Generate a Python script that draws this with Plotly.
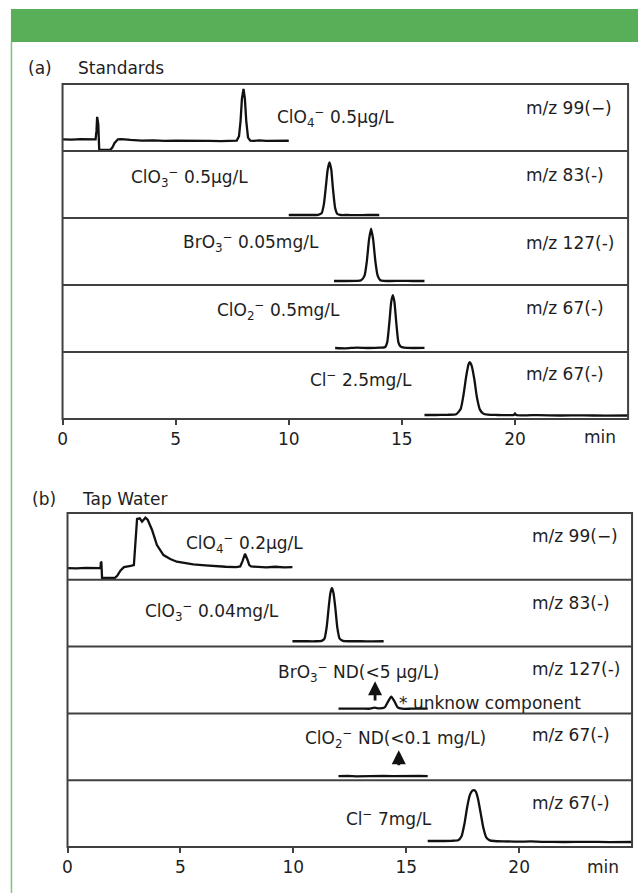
import plotly.graph_objects as go

# ---------------- data ----------------
# retention time axis (min)
time_ticks = [0, 5, 10, 15, 20]
time_range = [0, 25]

# (a) Standards - each trace: retention time (min) / relative response (0-100 of its lane)
std_clo4_t = [0.0, 0.4, 0.8, 1.2, 1.46, 1.5, 1.53, 1.58, 1.62, 1.7, 2.1, 2.2, 2.3, 2.45, 2.6, 3.0,
              3.5, 4.0, 4.5, 5.0, 5.5, 6.0, 6.5, 7.0, 7.5, 7.7, 7.8, 7.87, 7.93, 8.0, 8.06, 8.12,
              8.2, 8.3, 8.45, 8.7, 9.0, 9.5, 10.0]
std_clo4_i = [17.5, 17.0, 17.8, 17.5, 17.5, 30, 51, 40, 3, 1.5, 1.5, 5, 12, 17.5, 17.8, 16.5,
              15.5, 16.0, 15.0, 15.5, 15.0, 14.5, 15.0, 14.8, 15.0, 15.5, 22, 45, 78, 92.5, 78, 45,
              20, 15.5, 15.0, 15.8, 15.0, 15.5, 15.3]

std_clo3_t = [10.0, 10.5, 11.0, 11.3, 11.45, 11.55, 11.65, 11.72, 11.8, 11.88, 11.95, 12.05,
              12.15, 12.3, 12.6, 13.0, 13.5, 14.0]
std_clo3_i = [4.5, 4.5, 4.5, 4.8, 7, 20, 50, 72, 83, 72, 45, 15, 6, 4.5, 4.5, 4.2, 4.5, 4.5]

std_bro3_t = [12.0, 12.5, 13.0, 13.2, 13.35, 13.45, 13.55, 13.64, 13.73, 13.83, 13.93, 14.05,
              14.2, 14.5, 15.0, 15.5, 16.0]
std_bro3_i = [6, 6, 6.2, 7, 14, 35, 68, 84, 68, 35, 14, 7, 6, 6, 6.2, 6, 6]

std_clo2_t = [12.05, 12.5, 13.0, 13.5, 14.0, 14.25, 14.35, 14.45, 14.53, 14.6, 14.67, 14.75,
              14.85, 14.95, 15.1, 15.5, 16.0]
std_clo2_i = [6, 5.5, 6.5, 6, 6.5, 7, 14, 45, 75, 85, 75, 45, 14, 8, 6.5, 6, 6.2]

std_cl_t = [16.0, 16.5, 17.0, 17.4, 17.6, 17.72, 17.85, 17.95, 18.0, 18.08, 18.2, 18.32, 18.45,
            18.6, 18.8, 19.2, 19.7, 19.95, 20.0, 20.05, 20.5, 21.0, 22.0, 23.0, 24.0, 25.0]
std_cl_i = [6, 6, 6.3, 7, 15, 35, 65, 82, 85, 80, 60, 32, 14, 8, 6.5, 6, 5.8, 6, 8.5, 6, 5.5,
            5.8, 5.2, 5.5, 5.0, 5.2]

# (b) Tap water
tap_clo4_t = [0.0, 0.4, 0.8, 1.2, 1.46, 1.48, 1.5, 1.53, 1.6, 2.1, 2.2, 2.35, 2.5, 2.65, 2.8,
              2.94, 3.0, 3.08, 3.2, 3.3, 3.45, 3.55, 3.74, 3.96, 4.25, 4.55, 4.84, 5.2, 5.57, 6.1,
              6.6, 7.0, 7.47, 7.65, 7.75, 7.86, 7.97, 8.05, 8.13, 8.4, 8.8, 9.2, 9.6, 9.96]
tap_clo4_i = [17.5, 17.0, 18.0, 17.5, 17.5, 27, 26, 3, 3, 3, 6, 14, 19, 20.5, 21, 22, 60, 91,
              92, 87, 93, 90, 75, 52, 37, 31, 27, 25, 23, 21.5, 20, 19.5, 19, 20, 28, 39, 30, 22,
              20, 19.5, 18.5, 19.5, 18.5, 19]

tap_clo3_t = [9.96, 10.5, 11.0, 11.25, 11.38, 11.48, 11.57, 11.64, 11.71, 11.78, 11.86, 11.95,
              12.05, 12.2, 12.5, 13.0, 13.5, 14.0]
tap_clo3_i = [8, 8, 8, 8.5, 12, 30, 60, 80, 88, 80, 58, 28, 12, 8.5, 8, 8, 7.8, 8]

tap_bro3_t = [12.0, 12.5, 13.0, 13.4, 13.6, 13.8, 14.05, 14.2, 14.34, 14.48, 14.62, 14.8, 15.2,
              15.6, 15.95]
tap_bro3_i = [7, 7, 7.2, 7, 8.5, 7.5, 9, 18, 25, 18, 9, 7, 7, 7.2, 7]

tap_clo2_t = [12.0, 12.4, 12.8, 13.2, 13.6, 14.0, 14.4, 14.8, 15.2, 15.6, 15.95]
tap_clo2_i = [6, 6.5, 5.8, 6.3, 6, 6.5, 6, 6.4, 5.9, 6.3, 6]

tap_cl_t = [15.95, 16.5, 17.0, 17.3, 17.45, 17.58, 17.7, 17.82, 17.92, 18.0, 18.08, 18.18, 18.3,
            18.42, 18.55, 18.7, 18.9, 19.3, 20.0, 20.5, 21.0, 22.0, 23.0, 24.0, 25.0]
tap_cl_i = [9, 9, 9.3, 10, 16, 35, 60, 78, 84, 85, 83, 72, 50, 28, 14, 10, 9, 8.5, 8, 8.3, 7.8,
            7.5, 7.8, 7.3, 7.5]

# analyte labels and monitored ions, lane by lane
std_labels = ["ClO<sub>4</sub><sup>−</sup> 0.5µg/L", "ClO<sub>3</sub><sup>−</sup> 0.5µg/L",
              "BrO<sub>3</sub><sup>−</sup> 0.05mg/L", "ClO<sub>2</sub><sup>−</sup> 0.5mg/L",
              "Cl<sup>−</sup> 2.5mg/L"]
tap_labels = ["ClO<sub>4</sub><sup>−</sup> 0.2µg/L", "ClO<sub>3</sub><sup>−</sup> 0.04mg/L",
              "BrO<sub>3</sub><sup>−</sup> ND(<5 µg/L)", "ClO<sub>2</sub><sup>−</sup> ND(<0.1 mg/L)",
              "Cl<sup>−</sup> 7mg/L"]
std_ions = ["m/z 99(−)", "m/z 83(-)", "m/z 127(-)", "m/z 67(-)", "m/z 67(-)"]
tap_ions = ["m/z 99(−)", "m/z 83(-)", "m/z 127(-)", "m/z 67(-)", "m/z 67(-)"]

# retention times of the not-detected analytes (arrows)
nd_bro3_time = 13.62
nd_clo2_time = 14.67

# ---------------- layout helpers ----------------
W, H = 638, 893
FONT = "DejaVu Sans"
INK = "#1e1e1e"
FRAME = "#404040"


def fx(px):
    return px / W


def fy(py):
    return 1 - py / H


panels = [
    dict(xaxis="x", left=58, right=628, top=84, bottom=419, lanes_first=1,
         traces=[(std_clo4_t, std_clo4_i), (std_clo3_t, std_clo3_i), (std_bro3_t, std_bro3_i),
                 (std_clo2_t, std_clo2_i), (std_cl_t, std_cl_i)],
         shapes=["linear", "spline", "spline", "spline", "spline"],
         labels=std_labels, ions=std_ions,
         label_x=[272, 125, 177, 212, 305], label_dy=[0.50, 0.40, 0.37, 0.38, 0.40],
         ion_x=523, ion_dy=[0.36, 0.36, 0.38, 0.34, 0.33],
         tag="(a)", tag_x=21, title="Standards", title_x=72, title_y=68, min_x=600, tick_y=437),
    dict(xaxis="x2", left=63, right=632, top=513, bottom=847, lanes_first=6,
         traces=[(tap_clo4_t, tap_clo4_i), (tap_clo3_t, tap_clo3_i), (tap_bro3_t, tap_bro3_i),
                 (tap_clo2_t, tap_clo2_i), (tap_cl_t, tap_cl_i)],
         shapes=["linear", "spline", "spline", "linear", "spline"],
         labels=tap_labels, ions=tap_ions,
         label_x=[180, 139, 273, 300, 342], label_dy=[0.45, 0.48, 0.39, 0.37, 0.56],
         ion_x=529, ion_dy=[0.34, 0.35, 0.33, 0.33, 0.34],
         tag="(b)", tag_x=25, title="Tap Water", title_x=76, title_y=499, min_x=603, tick_y=867),
]

fig = go.Figure()
layout = dict(width=W, height=H, margin=dict(l=0, r=0, t=0, b=0),
              paper_bgcolor="white", plot_bgcolor="rgba(0,0,0,0)", showlegend=False)
shapes = []
annotations = []

# green banner and side rule
shapes.append(dict(type="rect", xref="paper", yref="paper", x0=fx(6), x1=1.0, y0=fy(42), y1=fy(9),
                   fillcolor="#59ae58", line=dict(width=0), layer="below"))
shapes.append(dict(type="line", xref="paper", yref="paper", x0=fx(6.5), x1=fx(6.5), y0=fy(42), y1=0,
                   line=dict(color="#7cc47b", width=1.5), layer="below"))

for p in panels:
    lane_h = (p["bottom"] - p["top"]) / 5
    xname = p["xaxis"]
    xkey = "xaxis" if xname == "x" else "xaxis" + xname[1:]
    bottom_lane = p["lanes_first"] + 4
    layout[xkey] = dict(domain=[fx(p["left"]), fx(p["right"])], range=time_range,
                        anchor="y" if bottom_lane == 1 else "y%d" % bottom_lane,
                        tickvals=time_ticks, ticks="outside", ticklen=5, tickwidth=1.5,
                        tickcolor=FRAME, showline=False, showgrid=False, zeroline=False,
                        tickfont=dict(family=FONT, size=17, color=INK), fixedrange=True)
    for k in range(5):
        n = p["lanes_first"] + k
        ykey = "yaxis" if n == 1 else "yaxis%d" % n
        yname = "y" if n == 1 else "y%d" % n
        top = p["top"] + k * lane_h
        bot = top + lane_h
        layout[ykey] = dict(domain=[fy(bot), fy(top)], range=[0, 100], visible=False,
                            anchor=xname, fixedrange=True)
        t, i = p["traces"][k]
        line = dict(color="#111111", width=2.3, shape=p["shapes"][k])
        if p["shapes"][k] == "spline":
            line["smoothing"] = 0.5
        fig.add_trace(go.Scatter(x=t, y=i, xaxis=xname, yaxis=yname, mode="lines", line=line,
                                 cliponaxis=False, hoverinfo="skip"))
        # lane separator
        if k > 0:
            shapes.append(dict(type="line", xref="paper", yref="paper",
                               x0=fx(p["left"]), x1=fx(p["right"]), y0=fy(top), y1=fy(top),
                               line=dict(color=FRAME, width=2)))
        annotations.append(dict(xref="paper", yref="paper", x=fx(p["label_x"][k]),
                                y=fy(top + p["label_dy"][k] * lane_h), xanchor="left",
                                yanchor="middle", showarrow=False, text=p["labels"][k],
                                font=dict(family=FONT, size=17, color=INK)))
        annotations.append(dict(xref="paper", yref="paper", x=fx(p["ion_x"]),
                                y=fy(top + p["ion_dy"][k] * lane_h), xanchor="left",
                                yanchor="middle", showarrow=False, text=p["ions"][k],
                                font=dict(family=FONT, size=17, color=INK)))
    # frame
    shapes.append(dict(type="rect", xref="paper", yref="paper", x0=fx(p["left"]),
                       x1=fx(p["right"]), y0=fy(p["bottom"]), y1=fy(p["top"]),
                       line=dict(color=FRAME, width=2)))
    # panel tag, title and time unit
    annotations.append(dict(xref="paper", yref="paper", x=fx(p["tag_x"]), y=fy(p["title_y"]),
                            xanchor="left", yanchor="middle", showarrow=False, text=p["tag"],
                            font=dict(family=FONT, size=17, color=INK)))
    annotations.append(dict(xref="paper", yref="paper", x=fx(p["title_x"]), y=fy(p["title_y"]),
                            xanchor="left", yanchor="middle", showarrow=False, text=p["title"],
                            font=dict(family=FONT, size=17, color=INK)))
    annotations.append(dict(xref="paper", yref="paper", x=fx(p["min_x"]), y=fy(p["tick_y"]),
                            xanchor="center", yanchor="middle", showarrow=False, text="min",
                            font=dict(family=FONT, size=17, color=INK)))

# not-detected markers in the tap-water lanes
for t_nd, ax_y, head, tail in [(nd_bro3_time, "y8", 48, 17), (nd_clo2_time, "y9", 45, 20)]:
    annotations.append(dict(xref="x2", yref=ax_y, x=t_nd, y=head, axref="x2", ayref=ax_y,
                            ax=t_nd, ay=tail, text="", showarrow=True, arrowhead=2,
                            arrowsize=1.0, arrowwidth=2.8, arrowcolor="#111111"))

annotations.append(dict(xref="x2", yref="y8", x=14.6, y=16, xanchor="left", yanchor="middle",
                        showarrow=False, text="* unknow component",
                        font=dict(family=FONT, size=17, color=INK)))

layout["shapes"] = shapes
layout["annotations"] = annotations
fig.update_layout(**layout)
fig.write_html("out.html")
